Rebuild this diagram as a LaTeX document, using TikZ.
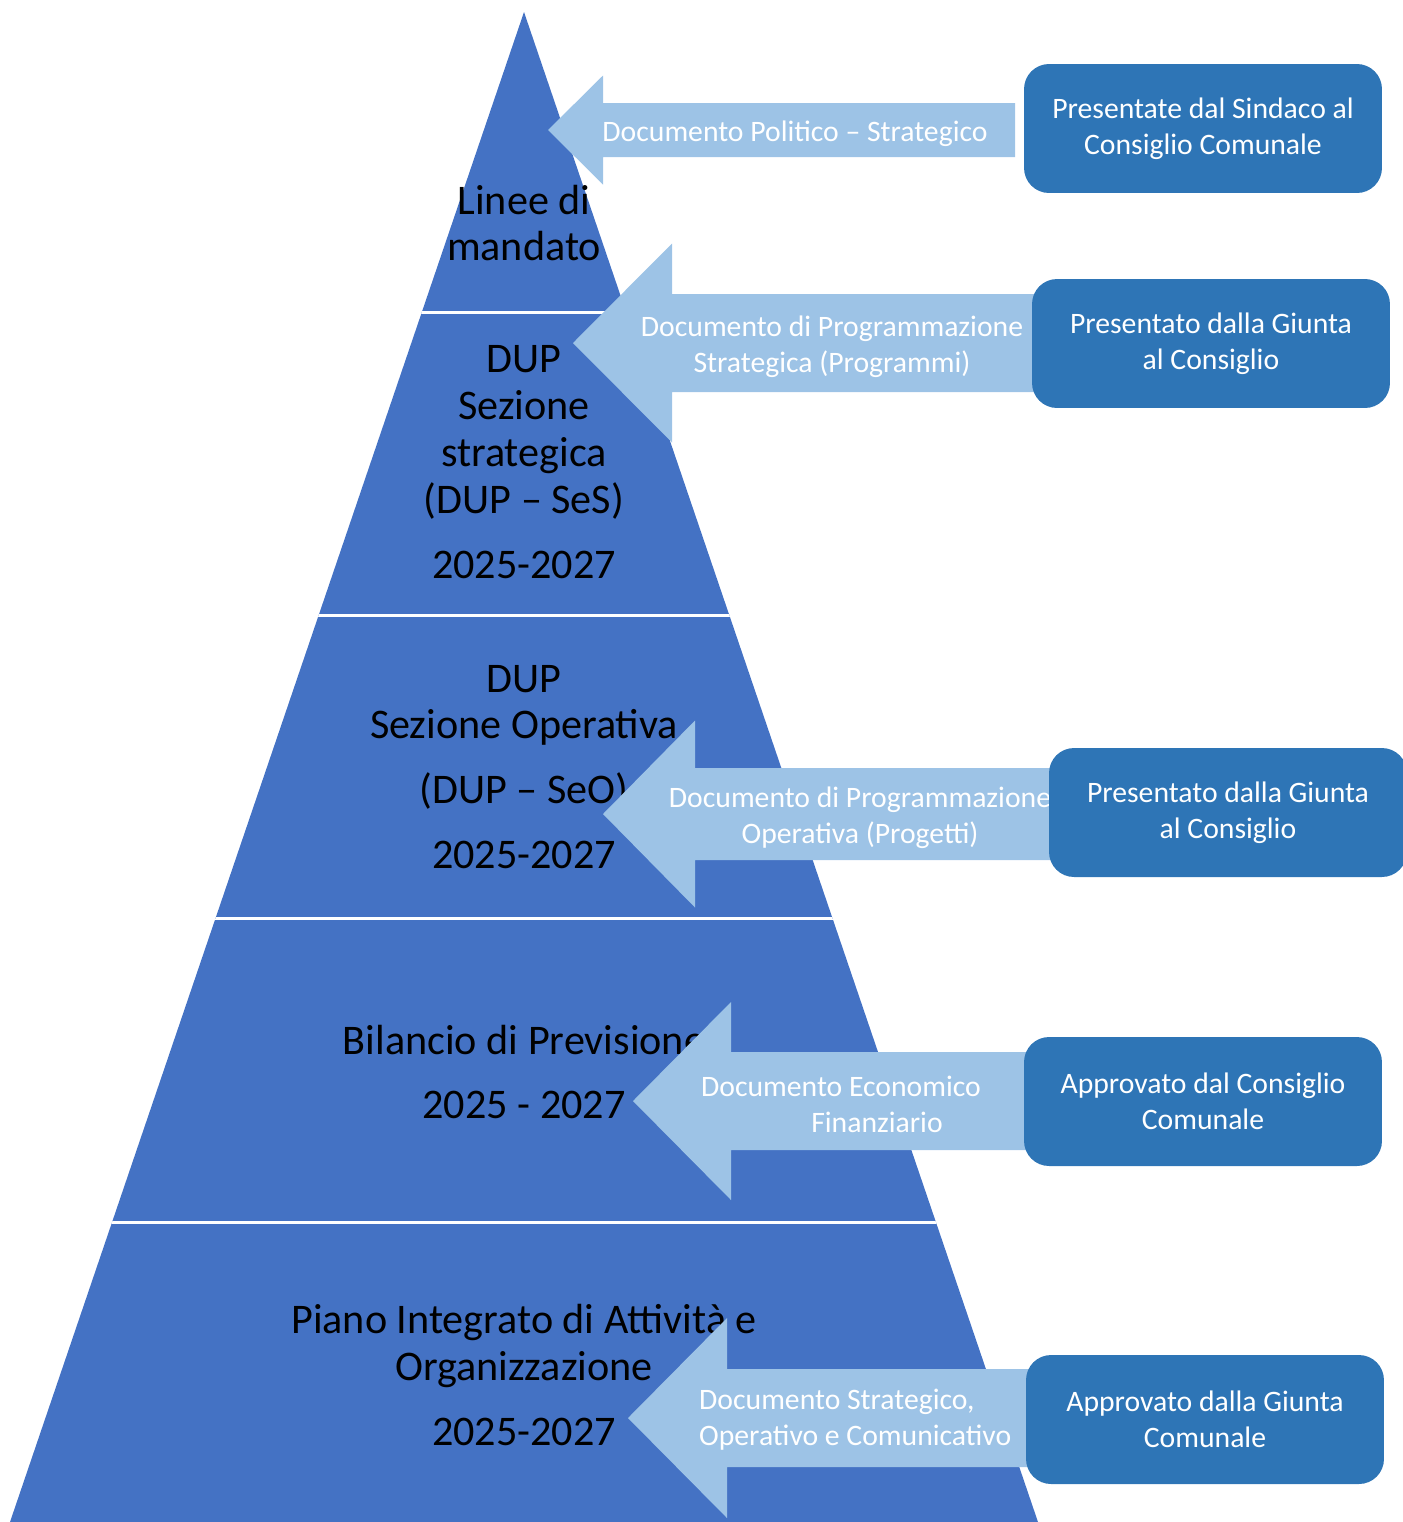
\documentclass[tikz,border=0pt]{standalone}
\usepackage{fontspec}
\setmainfont{Carlito}
\definecolor{pyrblue}{HTML}{4472C4}
\definecolor{arrowblue}{HTML}{9DC3E6}
\definecolor{boxblue}{HTML}{2E75B6}
\tikzset{
  tier/.style={align=center, text=black, font=\fontsize{24}{26.7}\selectfont},
  doclabel/.style={align=center, text=white, font=\fontsize{16.9}{20.5}\selectfont},
  approval/.style={fill=boxblue, rounded corners=0.5cm, minimum width=7.16cm,
    minimum height=2.58cm, align=center, text=white, font=\fontsize{16.9}{20.5}\selectfont},
}
\begin{document}
\begin{tikzpicture}[x=0.02cm, y=-0.02cm]
        \useasboundingbox (0,0) rectangle (1403,1522);
        % Pyramid
        \fill [pyrblue] (524,12) -- (1038,1522) -- (10,1522) -- cycle;
        % White lines between the tiers
        \begin{scope}
            \clip (524,12) -- (1038,1522) -- (10,1522) -- cycle;
            \foreach \ly in {312,615,918,1222}
                \draw [white, line width=0.06cm] (0,\ly) -- (1100,\ly);
        \end{scope}
        % Tier texts
        \node [tier] (mandato) at (524,223) {Linee di\\mandato};
        \node [tier] (ses) at (524,462) {DUP\\Sezione\\strategica\\(DUP -- SeS)\\[0.36cm]2025-2027};
        \node [tier] (seo) at (524,767) {DUP\\Sezione Operativa\\[0.36cm](DUP -- SeO)\\[0.36cm]2025-2027};
        \node [tier] (bilancio) at (524,1072) {Bilancio di Previsione\\[0.36cm]2025 - 2027};
        \node [tier] (piao) at (524,1375) {Piano Integrato di Attività e\\Organizzazione\\[0.36cm]2025-2027};
        % Block arrows: tip x / tip y / head base x / head half / shaft half / end x
        \foreach \tx/\ty/\bx/\hh/\sh/\ex in {548/130/603/54.5/27/1015, 573/343/672/99.5/49/1040,
            603/814/695/93.5/46/1060, 633/1101/731/99/49/1040, 628/1418/727/100/49/1040}
            \fill [arrowblue] (\tx,\ty) -- (\bx,\ty-\hh) -- (\bx,\ty-\sh) -- (\ex,\ty-\sh)
                -- (\ex,\ty+\sh) -- (\bx,\ty+\sh) -- (\bx,\ty+\hh) -- cycle;
        % Arrow texts
        \node [doclabel] (politico) at (795,134) {Documento Politico -- Strategico};
        \node [doclabel] (sesdoc) at (832,347) {Documento di Programmazione\\Strategica (Programmi)};
        \node [doclabel] (seodoc) at (860,818) {Documento di Programmazione\\Operativa (Progetti)};
        \node [doclabel] (bilanciodoc) at (841,1104) {Documento Economico\\\hspace*{1.44cm}Finanziario};
        \node [doclabel, align=left, anchor=west] (piaodoc) at (693,1420) {Documento Strategico,\\Operativo e Comunicativo};
        % Who presents or approves
        \node [approval] (sindaco) at (1203,128.5) {Presentate dal Sindaco al\\Consiglio Comunale};
        \node [approval] (giuntases) at (1211,343.5) {Presentato dalla Giunta\\al Consiglio};
        \node [approval] (giuntaseo) at (1228,812.5) {Presentato dalla Giunta\\al Consiglio};
        \node [approval] (consiglio) at (1203,1101.5) {Approvato dal Consiglio\\Comunale};
        \node [approval] (giunta) at (1205,1419.5) {Approvato dalla Giunta\\Comunale};
    \end{tikzpicture}
\end{document}
